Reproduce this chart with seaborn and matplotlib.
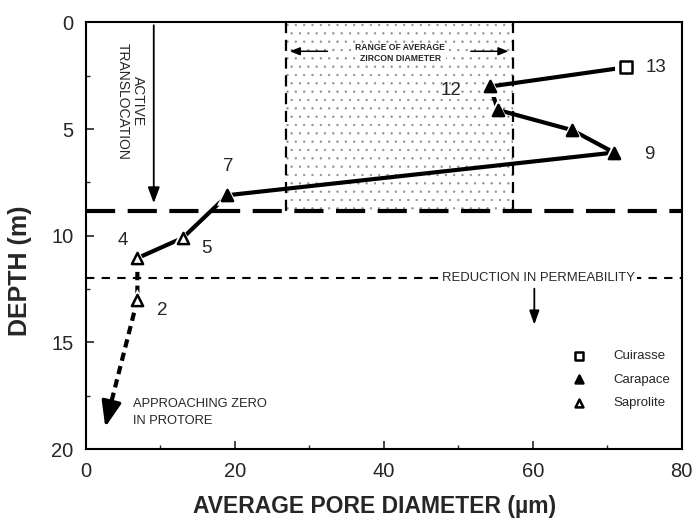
import matplotlib
matplotlib.use("Agg")
import matplotlib.pyplot as plt
import seaborn as sns
import pandas as pd
from matplotlib.patches import Rectangle
from matplotlib.ticker import MultipleLocator

sns.set_theme(style="ticks")
plt.rcParams['font.family'] = ['Liberation Sans', 'DejaVu Sans']
plt.rcParams['hatch.linewidth'] = 0.4

# Sample points (pore diameter um, depth m)
sample_ids = ["13", "12", "11", "10", "9", "7", "5", "4", "2"]
pore_diam = [72.5, 54.3, 55.3, 65.3, 70.9, 19.0, 13.0, 6.9, 6.9]
depth = [2.1, 3.0, 4.1, 5.05, 6.1, 8.1, 10.1, 11.05, 13.0]
horizon = ["Cuirasse", "Carapace", "Carapace", "Carapace", "Carapace",
           "Carapace", "Saprolite", "Saprolite", "Saprolite"]
labelled = ["13", "12", "9", "7", "5", "4", "2"]
label_pos = {"13": (76.6, 2.1), "12": (49.0, 3.2), "9": (75.7, 6.2),
             "7": (19.1, 6.75), "5": (16.2, 10.6), "4": (4.9, 10.2), "2": (10.3, 13.5)}

# Extrapolation to protore
extrap_x = [6.9, 3.4]
extrap_y = [13.0, 17.8]
arrow_tip = (2.5, 19.1)

zircon_range = [26.8, 57.3]
translocation_depth = 8.85
permeability_depth = 12.0

df = pd.DataFrame({"x": pore_diam, "y": depth, "horizon": horizon, "id": sample_ids})

fig = plt.figure(figsize=(6.94, 5.18), dpi=100)
ax = fig.add_axes([0.1239, 0.1332, 0.8585, 0.8234])

# stippled range box
ax.add_patch(Rectangle((zircon_range[0], 0), zircon_range[1] - zircon_range[0],
                       translocation_depth, facecolor='none', edgecolor='#8a8a8a',
                       hatch='..', linewidth=0, zorder=0))
for zx in zircon_range:
    ax.plot([zx, zx], [0, translocation_depth], color='black', lw=1.6,
            linestyle=(0, (5, 3)), zorder=1)
ax.text(42.2, 1.45, "RANGE OF AVERAGE\nZIRCON DIAMETER", ha='center', va='center',
        fontsize=6.2, fontweight='bold', linespacing=1.3, zorder=3,
        bbox=dict(facecolor='white', edgecolor='none', pad=0.5))
ax.annotate("", xy=(zircon_range[0] + 0.2, 1.35), xytext=(32.8, 1.35),
            arrowprops=dict(arrowstyle='-|>,head_length=0.5,head_width=0.2', color='black', lw=1.1))
ax.annotate("", xy=(zircon_range[1] - 0.2, 1.35), xytext=(51.3, 1.35),
            arrowprops=dict(arrowstyle='-|>,head_length=0.5,head_width=0.2', color='black', lw=1.1))

# horizontal markers
ax.axhline(translocation_depth, color='black', lw=3, linestyle=(0, (7, 3)), zorder=1)
ax.axhline(permeability_depth, color='black', lw=1.5, linestyle=(0, (4, 3.5)), zorder=1)
ax.text(60.8, permeability_depth, "REDUCTION IN PERMEABILITY", ha='center', va='center',
        fontsize=9.4, zorder=2,
        bbox=dict(facecolor='white', edgecolor='none', pad=1.5))
ax.annotate("", xy=(60.2, 14.3), xytext=(60.2, 12.35),
            arrowprops=dict(arrowstyle='-|>,head_length=0.7,head_width=0.25', color='black', lw=1.3))

# active translocation arrow
ax.annotate("", xy=(9.1, 8.6), xytext=(9.1, 0.0),
            arrowprops=dict(arrowstyle='-|>,head_length=0.8,head_width=0.3', color='black', lw=1.3))
ax.text(6.0, 3.7, "ACTIVE\nTRANSLOCATION", rotation=270, ha='center', va='center',
        fontsize=10, linespacing=1.1)

# data path
sns.lineplot(data=df.iloc[:-1], x="x", y="y", sort=False, estimator=None,
             color='black', lw=3.0, ax=ax, zorder=4)
sns.lineplot(x=[pore_diam[-2], pore_diam[-1]] + extrap_x[1:], y=[depth[-2], depth[-1]] + extrap_y[1:],
             sort=False, estimator=None, color='black', lw=3.0,
             linestyle=(0, (2, 1.3)), ax=ax, zorder=4)
ax.annotate("", xy=arrow_tip, xytext=(extrap_x[1], extrap_y[1]),
            arrowprops=dict(arrowstyle='-|>,head_length=1.3,head_width=0.5', color='black', lw=2.5))

# white halos for gaps
marker_map = {"Cuirasse": "s", "Carapace": "^", "Saprolite": "^"}
sns.scatterplot(data=df, x="x", y="y", style="horizon", markers=marker_map,
                color='white', s=230, edgecolor='white', linewidth=0, ax=ax, legend=False, zorder=5)
face_map = {"Cuirasse": "white", "Carapace": "black", "Saprolite": "white"}
for h in ["Cuirasse", "Carapace", "Saprolite"]:
    sub = df[df.horizon == h]
    sns.scatterplot(data=sub, x="x", y="y", marker=marker_map[h], s=65,
                    color=face_map[h], edgecolor='black', linewidth=1.8, ax=ax,
                    label=h, zorder=6)

for lid in labelled:
    lx, ly = label_pos[lid]
    ax.text(lx, ly, lid, ha='center', va='center', fontsize=13.5)

ax.text(6.3, 17.9, "APPROACHING ZERO", ha='left', va='center', fontsize=9.3)
ax.text(6.3, 18.7, "IN PROTORE", ha='left', va='center', fontsize=9.3)

leg = ax.legend(loc='upper left', bbox_to_anchor=(0.785, 0.26), frameon=False,
                fontsize=9.5, handletextpad=1.6, labelspacing=0.85, markerscale=0.7)

ax.set_xlim(0, 80)
ax.set_ylim(20, 0)
ax.xaxis.set_major_locator(MultipleLocator(20))
ax.xaxis.set_minor_locator(MultipleLocator(10))
ax.yaxis.set_major_locator(MultipleLocator(5))
ax.yaxis.set_minor_locator(MultipleLocator(2.5))
ax.tick_params(which='major', direction='in', length=6, width=1.2, labelsize=14.5)
ax.tick_params(axis='x', which='major', pad=9)
ax.tick_params(axis='y', which='major', pad=9)
ax.tick_params(which='minor', direction='in', length=3, width=1)
for s in ax.spines.values():
    s.set_linewidth(1.5)
    s.set_color('black')
ax.set_xlabel("AVERAGE PORE DIAMETER (µm)", fontsize=16.5, fontweight='bold')
ax.set_ylabel("DEPTH (m)", fontsize=18, fontweight='bold')
ax.xaxis.set_label_coords(0.485, -0.108)
ax.yaxis.set_label_coords(-0.09, 0.417)

fig.savefig("out.png", dpi=100)
